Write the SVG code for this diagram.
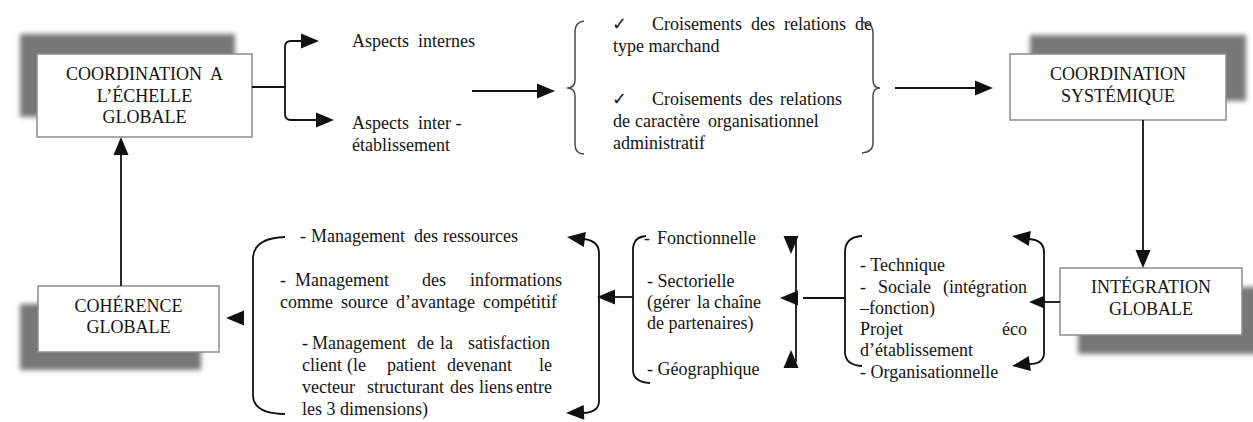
<svg xmlns="http://www.w3.org/2000/svg" xmlns:xlink="http://www.w3.org/1999/xlink" width="1253" height="422" viewBox="0 0 1253 422" font-family="'Liberation Serif', 'DejaVu Serif', serif">
  <style>
    text { font-family: 'Liberation Serif', 'DejaVu Serif', serif; }
    .t { font-size: 18px; fill: #141414; }
    .bx { text-anchor: middle; }
    .ck { font-family: 'DejaVu Sans', sans-serif; font-size: 18px; fill: #141414; }
    .box { fill: #ffffff; stroke: #8c8c8c; stroke-width: 1.5; }
    .shadow { fill: #777777; filter: url(#soft); }
    .ln { fill: none; stroke: #111111; stroke-width: 1.8; }
    .brace { fill: none; stroke: #4a4a4a; stroke-width: 1.5; }
    .ah { fill: #111111; }
  </style>
  <defs>
    <filter id="soft" x="-10%" y="-20%" width="120%" height="140%">
      <feGaussianBlur stdDeviation="2.5"/>
    </filter>
    <!-- arrowhead pointing along +x, tip at the origin -->
    <path id="ah" class="ah" d="M0,0 L-18,-7.5 L-18,7.5 Z"/>
  </defs>

  <rect width="1253" height="422" fill="#ffffff"/>

  <!-- nodes -->
  <g id="coordination-globale">
    <rect class="shadow" x="20" y="34" width="215" height="83"/>
    <rect class="box" x="37" y="54" width="215" height="83"/>
    <text class="t bx" x="144.5" y="80" style="white-space:pre">COORDINATION  A</text>
    <text class="t bx" x="144.5" y="102">L’ÉCHELLE</text>
    <text class="t bx" x="144.5" y="123">GLOBALE</text>
  </g>

  <g id="coordination-systemique">
    <rect class="shadow" x="1030" y="35" width="216" height="66"/>
    <rect class="box" x="1010" y="54" width="216" height="66"/>
    <text class="t bx" x="1118" y="80">COORDINATION</text>
    <text class="t bx" x="1118" y="102">SYSTÉMIQUE</text>
  </g>

  <g id="integration-globale">
    <rect class="shadow" x="1078" y="287" width="182" height="67"/>
    <rect class="box" x="1060" y="268" width="182" height="67"/>
    <text class="t bx" x="1151" y="293">INTÉGRATION</text>
    <text class="t bx" x="1151" y="315">GLOBALE</text>
  </g>

  <g id="coherence-globale">
    <rect class="shadow" x="20" y="304" width="181" height="66"/>
    <rect class="box" x="38" y="286" width="181" height="66"/>
    <text class="t bx" x="128.5" y="312">COHÉRENCE</text>
    <text class="t bx" x="128.5" y="333">GLOBALE</text>
  </g>

  <g id="aspects">
    <text class="t" x="352" y="47" style="white-space:pre">Aspects  internes</text>
    <text class="t" x="352" y="129" style="white-space:pre">Aspects  inter -</text>
    <text class="t" x="352" y="151">établissement</text>
  </g>

  <g id="croisements">
    <path class="brace" d="M584,21 Q575,22 575,32 V80 Q575,88 567,88 Q575,88 575,96 V144 Q575,154 584,154"/>
    <text class="ck" x="612" y="30">✓</text>
    <text class="t" y="30"><tspan x="652">Croisements</tspan><tspan x="751">des</tspan><tspan x="784">relations</tspan><tspan x="855">de</tspan></text>
    <text class="t" x="613" y="52">type marchand</text>
    <text class="ck" x="612" y="105">✓</text>
    <text class="t" y="105"><tspan x="652">Croisements</tspan><tspan x="749">des</tspan><tspan x="780">relations</tspan></text>
    <text class="t" y="127"><tspan x="613">de</tspan><tspan x="635">caractère</tspan><tspan x="708">organisationnel</tspan></text>
    <text class="t" x="613" y="149">administratif</text>
    <path class="brace" d="M862,22 Q873,23 873,33 V80 Q873,88 880,88 Q873,88 873,96 V143 Q873,152 862,153"/>
  </g>

  <g id="integration-dimensions">
    <path class="ln" d="M862,236 Q845,237 845,252 V352 Q845,365 862,366"/>
    <text class="t" x="860" y="271">- Technique</text>
    <text class="t" y="293"><tspan x="860">-</tspan><tspan x="878">Sociale</tspan><tspan x="943">(intégration</tspan></text>
    <text class="t" x="860" y="314">–fonction)</text>
    <text class="t" x="860" y="335">Projet</text>
    <text class="t" x="1027" y="335" text-anchor="end">éco</text>
    <text class="t" x="860" y="356">d’établissement</text>
    <text class="t" x="860" y="378">- Organisationnelle</text>
  </g>

  <g id="coordination-dimensions">
    <path class="ln" d="M646,236 Q633,237 633,250 V370 Q633,382 650,383"/>
    <text class="t" y="244"><tspan x="644">-</tspan><tspan x="657">Fonctionnelle</tspan></text>
    <text class="t" x="647" y="287">- Sectorielle</text>
    <text class="t" y="308"><tspan x="647">(gérer</tspan><tspan x="697">la</tspan><tspan x="714">chaîne</tspan></text>
    <text class="t" x="647" y="329">de partenaires)</text>
    <text class="t" x="647" y="375">- Géographique</text>
  </g>

  <g id="management">
    <path class="ln" d="M285,237 Q254,238 253,258 V396 Q254,414 285,414"/>
    <text class="t" y="242"><tspan x="300">-</tspan><tspan x="311">Management</tspan><tspan x="414">des</tspan><tspan x="443">ressources</tspan></text>
    <text class="t" y="286"><tspan x="280">-</tspan><tspan x="295">Management</tspan><tspan x="422">des</tspan><tspan x="470">informations</tspan></text>
    <text class="t" y="308"><tspan x="280">comme</tspan><tspan x="341">source</tspan><tspan x="396">d’avantage</tspan><tspan x="483">compétitif</tspan></text>
    <text class="t" y="349"><tspan x="302">-</tspan><tspan x="312">Management</tspan><tspan x="417">de</tspan><tspan x="440">la</tspan><tspan x="468">satisfaction</tspan></text>
    <text class="t" y="371"><tspan x="302">client</tspan><tspan x="347">(le</tspan><tspan x="387">patient</tspan><tspan x="447">devenant</tspan><tspan x="539">le</tspan></text>
    <text class="t" y="393"><tspan x="302">vecteur</tspan><tspan x="367">structurant</tspan><tspan x="450">des</tspan><tspan x="479">liens</tspan><tspan x="516">entre</tspan></text>
    <text class="t" x="302" y="415">les 3 dimensions)</text>
  </g>

  <!-- connectors -->
  <g id="connectors">
    <path class="ln" d="M252,87 H285"/>
    <path class="ln" d="M301,41 H291 Q285,41 285,47 V114 Q285,120 291,120 H316"/>
    <use xlink:href="#ah" transform="translate(319,41)"/>
    <use xlink:href="#ah" transform="translate(334,120)"/>

    <path class="ln" d="M472,91 H538"/>
    <use xlink:href="#ah" transform="translate(555,91)"/>

    <path class="ln" d="M895,88 H976"/>
    <use xlink:href="#ah" transform="translate(993,88)"/>

    <path class="ln" d="M1143,120 V251"/>
    <use xlink:href="#ah" transform="translate(1143,268) rotate(90)"/>

    <path class="ln" d="M1060,302 H1044"/>
    <use xlink:href="#ah" transform="translate(1029,302) rotate(180) scale(0.85)"/>
    <path class="ln" d="M1029,239 Q1044,240 1044,252 V353 Q1044,364 1029,364"/>
    <use xlink:href="#ah" transform="translate(1012,236) rotate(188)"/>
    <use xlink:href="#ah" transform="translate(1012,366) rotate(172)"/>

    <path class="ln" d="M803,298 H845"/>
    <path class="ln" d="M796,240 V362"/>
    <use xlink:href="#ah" transform="translate(791,254) rotate(90)"/>
    <use xlink:href="#ah" transform="translate(791,350) rotate(-90)"/>
    <use xlink:href="#ah" transform="translate(780,298) rotate(180)"/>

    <path class="ln" d="M615,297 H633"/>
    <use xlink:href="#ah" transform="translate(597,297) rotate(180)"/>
    <path class="ln" d="M584,239 Q599,241 599,253 V401 Q599,412 584,413"/>
    <use xlink:href="#ah" transform="translate(567,237) rotate(188)"/>
    <use xlink:href="#ah" transform="translate(566,413) rotate(178)"/>

    <use xlink:href="#ah" transform="translate(226,318) rotate(180)"/>

    <path class="ln" d="M121,286 V155"/>
    <use xlink:href="#ah" transform="translate(121,137) rotate(-90)"/>
  </g>
</svg>
